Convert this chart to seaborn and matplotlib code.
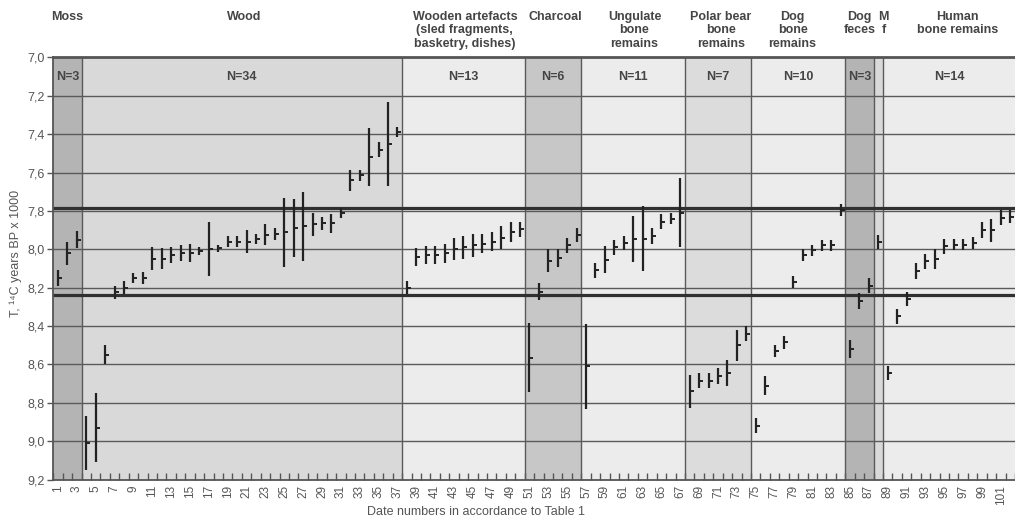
# Radiocarbon dates by material group - high/low bars with mean tick
import numpy as np
import pandas as pd
import matplotlib
matplotlib.use('Agg')
import matplotlib.pyplot as plt
import matplotlib.transforms as mtransforms
import seaborn as sns

# groups (first and last date number of each)
groups = ['Moss', 'Wood', 'Wooden artefacts\n(sled fragments,\nbasketry, dishes)', 'Charcoal',
          'Ungulate\nbone\nremains', 'Polar bear\nbone\nremains', 'Dog\nbone\nremains',
          'Dog\nfeces', 'M\nf', 'Human\nbone remains']
group_first = [1, 4, 38, 51, 57, 68, 75, 85, 88, 89]
group_last = [3, 37, 50, 56, 67, 74, 84, 87, 88, 102]
group_n = ['N=3', 'N=34', 'N=13', 'N=6', 'N=11', 'N=7', 'N=10', 'N=3', '', 'N=14']
group_shade = ['#b4b4b4', '#d9d9d9', '#ececec', '#c7c7c7', '#ececec',
               '#dcdcdc', '#ececec', '#b4b4b4', '#d9d9d9', '#ececec']

# date values, 14C years BP x 1000 (mean and +/- error)
date_no = list(range(1, 103))
age_mean = [8.15, 8.02, 7.95,
            9.01, 8.93, 8.55, 8.225, 8.20, 8.15, 8.15, 8.05, 8.05, 8.03, 8.02, 8.02, 8.01,
            8.00, 7.995, 7.96, 7.96, 7.96, 7.945, 7.925, 7.92, 7.91, 7.89, 7.88, 7.87,
            7.865, 7.865, 7.81, 7.64, 7.615, 7.52, 7.48, 7.45, 7.39,
            8.20, 8.04, 8.03, 8.03, 8.02, 8.00, 7.99, 7.98, 7.97, 7.96, 7.94, 7.91, 7.895,
            8.565, 8.22, 8.06, 8.045, 7.98, 7.925,
            8.61, 8.11, 8.055, 7.99, 7.965, 7.945, 7.945, 7.93, 7.855, 7.84, 7.81,
            8.74, 8.685, 8.685, 8.66, 8.645, 8.50, 8.44,
            8.92, 8.71, 8.53, 8.485, 8.17, 8.03, 8.005, 7.98, 7.98, 7.795,
            8.52, 8.27, 8.19,
            7.96,
            8.645, 8.35, 8.26, 8.113, 8.062, 8.05, 7.985, 7.975, 7.975, 7.968, 7.90, 7.90,
            7.835, 7.83]
age_err = [0.04, 0.06, 0.045,
           0.14, 0.18, 0.05, 0.035, 0.035, 0.025, 0.03, 0.06, 0.055, 0.04, 0.04, 0.048, 0.02,
           0.14, 0.02, 0.03, 0.028, 0.06, 0.027, 0.055, 0.03, 0.18, 0.15, 0.18, 0.06,
           0.035, 0.05, 0.025, 0.055, 0.027, 0.15, 0.04, 0.22, 0.027,
           0.035, 0.048, 0.048, 0.047, 0.05, 0.058, 0.06, 0.06, 0.05, 0.05, 0.06, 0.05, 0.04,
           0.18, 0.045, 0.06, 0.045, 0.04, 0.037,
           0.22, 0.04, 0.07, 0.04, 0.037, 0.12, 0.17, 0.04, 0.04, 0.03, 0.18,
           0.085, 0.04, 0.04, 0.04, 0.07, 0.08, 0.04,
           0.04, 0.048, 0.033, 0.033, 0.03, 0.03, 0.03, 0.027, 0.027, 0.033,
           0.048, 0.042, 0.04,
           0.037,
           0.038, 0.04, 0.037, 0.04, 0.038, 0.05, 0.04, 0.03, 0.03, 0.03, 0.04, 0.06,
           0.04, 0.035]

# reference interval (thick lines)
band = [7.785, 8.24]

y_ticks = [7.0, 7.2, 7.4, 7.6, 7.8, 8.0, 8.2, 8.4, 8.6, 8.8, 9.0, 9.2]
y_ticklabels = ['7,0', '7,2', '7,4', '7,6', '7,8', '8,0', '8,2', '8,4', '8,6', '8,8', '9,0', '9,2']

df = pd.DataFrame({'date': date_no, 'mean': age_mean, 'err': age_err})

sns.set_theme(style='white')
plt.rcParams['font.family'] = ['Liberation Sans', 'DejaVu Sans']

fig = plt.figure(figsize=(10.15, 5.18), dpi=100)
ax = fig.add_axes([0.0525, 0.0743, 0.9475, 0.8147])

# shaded group columns
for g0, g1, shade in zip(group_first, group_last, group_shade):
    ax.axvspan(g0 - 0.5, g1 + 0.5, color=shade, lw=0, zorder=0)
for g1 in group_last[:-1]:
    ax.axvline(g1 + 0.5, color='#5a5a5a', lw=1.0, zorder=1)

# grid and the two thick lines
for yv in y_ticks[1:-1]:
    ax.axhline(yv, color='#5a5a5a', lw=1.0, zorder=1)
for yv in band:
    ax.axhline(yv, color='#303030', lw=2.3, zorder=2)

# bars + mean ticks
ax.errorbar(df['date'], df['mean'], yerr=df['err'], fmt='none', ecolor='#222222',
            elinewidth=1.6, capsize=0, zorder=3)
sns.scatterplot(data=df, x='date', y='mean', marker=1, s=9, color='#222222',
                linewidth=1.4, legend=False, ax=ax, zorder=4)

ax.set_xlim(0.5, 102.5)
ax.set_ylim(9.2, 7.0)

ax.set_yticks(y_ticks)
ax.set_yticklabels(y_ticklabels)
ax.set_xticks(date_no[::2])
ax.set_xticklabels([str(d) for d in date_no[::2]], rotation=90)
ax.set_xticks(np.arange(0.5, 103, 1), minor=True)
ax.tick_params(axis='y', direction='out', length=4, width=1, color='#555555',
               labelsize=9, labelcolor='#555555', pad=2, left=True)
ax.tick_params(axis='x', which='major', length=0, labelsize=8.5, labelcolor='#555555', pad=4)
ax.tick_params(axis='x', which='minor', direction='in', length=5, width=1,
               color='#555555', bottom=True)
ax.set_xlabel('')
ax.set_ylabel('')

for side in ['left', 'bottom', 'top']:
    ax.spines[side].set_color('#555555')
    ax.spines[side].set_linewidth(1.3)
ax.spines['top'].set_linewidth(2.0)
ax.spines['right'].set_visible(False)

# group names and counts (small horizontal nudges in points for the header)
trans = mtransforms.blended_transform_factory(ax.transData, ax.transAxes)
nudge = [0, 2, 1, 2, 1, 2, -4, 0, 4, 6]
for name, g0, g1, n, dx in zip(groups, group_first, group_last, group_n, nudge):
    xc = (g0 + g1) / 2
    t = trans + mtransforms.ScaledTranslation(dx / 72, 0, fig.dpi_scale_trans)
    ax.text(xc, 1.11, name, transform=t, ha='center', va='top', fontsize=9,
            fontweight='bold', color='#454545', linespacing=1.15)
    if n:
        ax.text(xc, 7.1, n, ha='center', va='center', fontsize=9,
                fontweight='bold', color='#454545', zorder=5)

fig.text(0.016, 1 - 253 / 518, 'T, ¹⁴C years BP x 1000', rotation=90,
         ha='center', va='center', fontsize=9, color='#555555')
fig.text(476 / 1015, 1 - 512 / 518, 'Date numbers in accordance to Table 1',
         ha='center', va='center', fontsize=9, color='#555555')

fig.savefig('out.png', dpi=100)
